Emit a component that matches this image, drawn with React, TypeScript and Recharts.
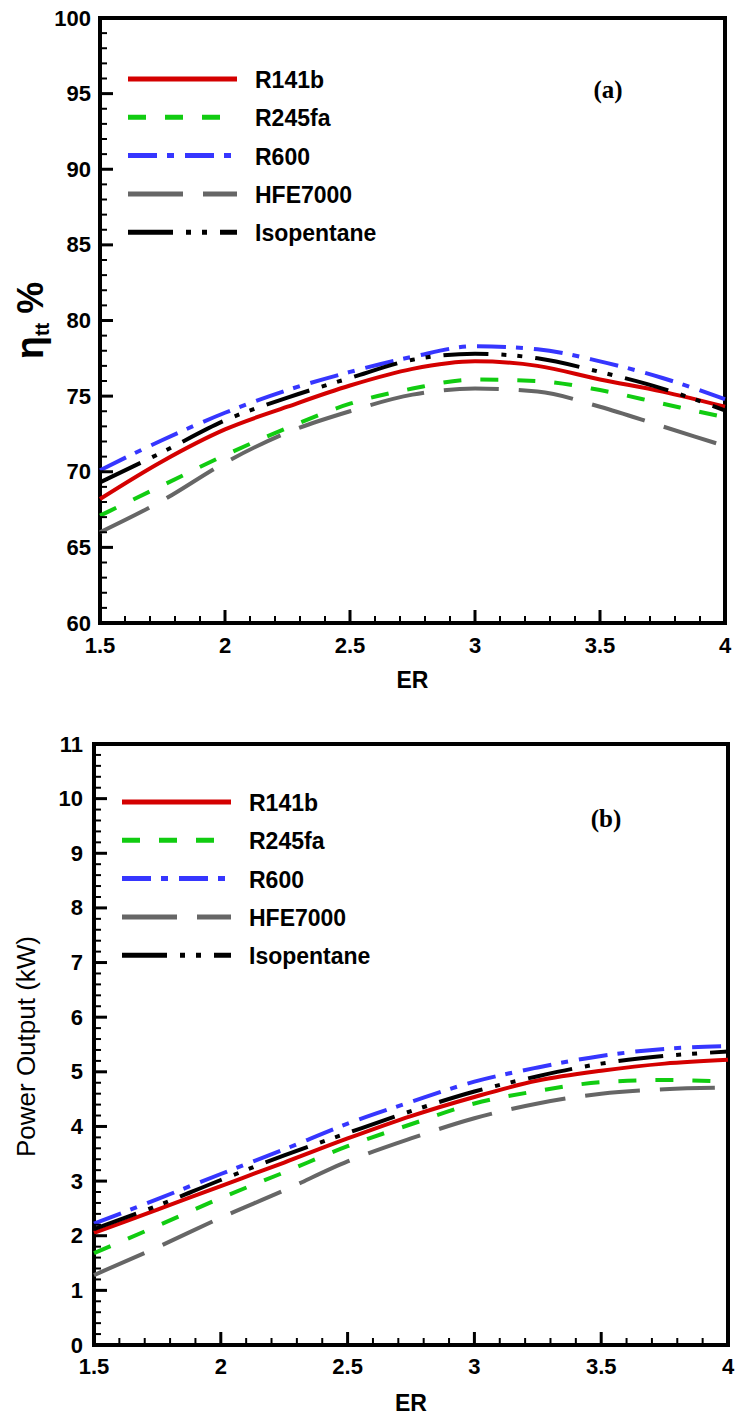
import { LineChart, Line, XAxis, YAxis, ReferenceArea, Legend } from 'recharts';

// expansion ratio sampled along the curves
const erValues = [1.5, 1.75, 2, 2.25, 2.5, 2.75, 3, 3.25, 3.5, 3.75, 4];

// (a) total-to-total efficiency, %
const etaR141b = [68.2, 70.7, 72.8, 74.3, 75.7, 76.8, 77.3, 77.0, 76.1, 75.3, 74.3];
const etaR245fa = [67.1, 69.1, 71.1, 72.9, 74.5, 75.5, 76.1, 76.0, 75.4, 74.5, 73.6];
const etaR600 = [70.1, 72.1, 73.9, 75.4, 76.6, 77.6, 78.3, 78.1, 77.3, 76.2, 74.8];
const etaHFE7000 = [66.0, 68.1, 70.6, 72.6, 74.0, 75.1, 75.5, 75.3, 74.3, 73.0, 71.7];
const etaIsopentane = [69.3, 71.3, 73.4, 74.9, 76.2, 77.4, 77.8, 77.5, 76.6, 75.5, 74.05];

// (b) power output, kW
const powR141b = [2.05, 2.48, 2.91, 3.34, 3.78, 4.19, 4.54, 4.84, 5.02, 5.15, 5.22];
const powR245fa = [1.68, 2.18, 2.69, 3.16, 3.64, 4.04, 4.42, 4.65, 4.81, 4.85, 4.82];
const powR600 = [2.22, 2.67, 3.13, 3.58, 4.05, 4.45, 4.82, 5.08, 5.29, 5.42, 5.47];
const powHFE7000 = [1.28, 1.79, 2.33, 2.83, 3.36, 3.78, 4.15, 4.42, 4.6, 4.68, 4.71];
const powIsopentane = [2.12, 2.55, 3.02, 3.47, 3.88, 4.28, 4.64, 4.92, 5.15, 5.29, 5.37];

// axis ticks (majors get a label, the rest are minor marks)
const erTicks = Array.from({ length: 26 }, (_, i) => (15 + i) / 10);
const etaTicks = Array.from({ length: 41 }, (_, i) => 60 + i);
const powTicks = Array.from({ length: 56 }, (_, i) => (i * 2) / 10);

const fluids = [
  { key: 'R141b', color: '#d40000', dash: undefined },
  { key: 'R245fa', color: '#11cc11', dash: '18 19' },
  { key: 'R600', color: '#3636ff', dash: '29 10 7 11' },
  { key: 'HFE7000', color: '#666666', dash: '55 20' },
  { key: 'Isopentane', color: '#000000', dash: '45 13 5 11 5 13' },
];

const etaData = erValues.map((er, i) => ({
  er,
  R141b: etaR141b[i],
  R245fa: etaR245fa[i],
  R600: etaR600[i],
  HFE7000: etaHFE7000[i],
  Isopentane: etaIsopentane[i],
}));

const powData = erValues.map((er, i) => ({
  er,
  R141b: powR141b[i],
  R245fa: powR245fa[i],
  R600: powR600[i],
  HFE7000: powHFE7000[i],
  Isopentane: powIsopentane[i],
}));

const SANS = '"Liberation Sans", Arial, Helvetica, sans-serif';
const tickFont = { fontFamily: SANS, fontWeight: 700, fontSize: 22, fill: '#000' };

const near = (a: number, b: number) => Math.abs(a - b) < 1e-6;

const XTick = (props: any) => {
  const { x, y, payload, labelDy } = props;
  const v = payload.value;
  const major = near(v * 2, Math.round(v * 2));
  return (
    <g>
      <line x1={x} y1={y} x2={x} y2={y - (major ? 13 : 7)} stroke="#000" strokeWidth={major ? 3 : 2} />
      {major && (
        <text x={x} y={y + labelDy} textAnchor="middle" dominantBaseline="central" style={tickFont}>
          {v}
        </text>
      )}
    </g>
  );
};

const YTick = (props: any) => {
  const { x, y, payload, gap, majorStep } = props;
  const v = payload.value;
  const major = near(v / majorStep, Math.round(v / majorStep));
  return (
    <g>
      <line x1={x} y1={y} x2={x + (major ? 13 : 7)} y2={y} stroke="#000" strokeWidth={major ? 3 : 2} />
      {major && (
        <text x={x - gap} y={y} textAnchor="end" dominantBaseline="central" style={tickFont}>
          {Math.round(v)}
        </text>
      )}
    </g>
  );
};

const LegendBox = () => (
  <svg width={300} height={200}>
    {fluids.map((f, i) => {
      const y = 12 + i * 38.3;
      return (
        <g key={f.key}>
          <line x1={0} x2={109} y1={y} y2={y} stroke={f.color} strokeWidth={5} strokeDasharray={f.dash} />
          <text x={127} y={y + 1} dominantBaseline="central" style={{ ...tickFont, fontSize: 23 }}>
            {f.key}
          </text>
        </g>
      );
    })}
  </svg>
);

type PanelProps = {
  data: any[];
  height: number;
  margin: { top: number; right: number; bottom: number; left: number };
  yWidth: number;
  yDomain: [number, number];
  yTicks: number[];
  majorStep: number;
  yGap: number;
  xLabelDy: number;
  erDy: number;
  legendX: number;
  legendY: number;
  yLabel: (cy: number) => any;
};

function Panel(p: PanelProps) {
  const plotH = p.height - p.margin.top - p.margin.bottom - 60;
  const plotL = p.margin.left + p.yWidth;
  const plotR = 736 - p.margin.right;
  return (
    <LineChart width={736} height={p.height} data={p.data} margin={p.margin}>
      <XAxis
        type="number"
        dataKey="er"
        domain={[1.5, 4]}
        ticks={erTicks}
        interval={0}
        height={60}
        tickSize={0}
        tickMargin={0}
        axisLine={false}
        tick={(t: any) => <XTick {...t} labelDy={p.xLabelDy} />}
        label={() => (
          <text
            x={(plotL + plotR) / 2}
            y={p.margin.top + plotH + p.erDy}
            textAnchor="middle"
            dominantBaseline="central"
            style={{ ...tickFont, fontSize: 23 }}
          >
            ER
          </text>
        )}
      />
      <YAxis
        type="number"
        domain={p.yDomain}
        ticks={p.yTicks}
        interval={0}
        width={p.yWidth}
        tickSize={0}
        tickMargin={0}
        axisLine={false}
        tick={(t: any) => <YTick {...t} gap={p.yGap} majorStep={p.majorStep} />}
        label={() => p.yLabel(p.margin.top + plotH / 2)}
      />
      {fluids.map((f) => (
        <Line
          key={f.key}
          type="monotone"
          dataKey={f.key}
          stroke={f.color}
          strokeWidth={4}
          strokeDasharray={f.dash}
          dot={false}
          activeDot={false}
          isAnimationActive={false}
        />
      ))}
      <ReferenceArea
        x1={1.5}
        x2={4}
        y1={p.yDomain[0]}
        y2={p.yDomain[1]}
        fill="none"
        stroke="#000"
        strokeWidth={4}
      />
      <Legend
        layout="vertical"
        align="center"
        verticalAlign="middle"
        content={() => <LegendBox />}
        wrapperStyle={{ left: p.legendX, top: p.legendY - 12, width: 300, height: 200, margin: 0 }}
      />
    </LineChart>
  );
}

const tagStyle: any = {
  position: 'absolute',
  fontFamily: '"Liberation Serif", "Times New Roman", serif',
  fontWeight: 700,
  fontSize: 25,
  transform: 'translate(-50%, -50%)',
  lineHeight: 1,
};

export default function App() {
  return (
    <div style={{ position: 'absolute', left: 0, top: 0, width: 736, height: 1418, background: '#fff' }}>
      <div style={{ position: 'absolute', left: 0, top: 0 }}>
        <Panel
          data={etaData}
          height={700}
          margin={{ top: 18, right: 11, bottom: 17, left: 0 }}
          yWidth={100}
          yDomain={[60, 100]}
          yTicks={etaTicks}
          majorStep={5}
          yGap={9}
          xLabelDy={22}
          erDy={57}
          legendX={128}
          legendY={79}
          yLabel={(cy) => (
            <text
              x={43}
              y={cy}
              transform={`rotate(-90, 43, ${cy})`}
              textAnchor="middle"
              style={{ fontFamily: SANS, fontWeight: 700, fill: '#000' }}
            >
              <tspan fontSize={38}>η</tspan>
              <tspan fontSize={20} dy={6}>tt</tspan>
              <tspan fontSize={36} dy={-6} dx={9}>%</tspan>
            </text>
          )}
        />
      </div>
      <div style={{ ...tagStyle, left: 608, top: 89 }}>(a)</div>
      <div style={{ position: 'absolute', left: 0, top: 700 }}>
        <Panel
          data={powData}
          height={718}
          margin={{ top: 44, right: 8, bottom: 13, left: 0 }}
          yWidth={94}
          yDomain={[0, 11]}
          yTicks={powTicks}
          majorStep={1}
          yGap={11}
          xLabelDy={21}
          erDy={58}
          legendX={122}
          legendY={102}
          yLabel={(cy) => (
            <text
              x={35}
              y={cy + 2}
              transform={`rotate(-90, 35, ${cy + 2})`}
              textAnchor="middle"
              style={{ fontFamily: SANS, fontWeight: 400, fontSize: 26, fill: '#000' }}
            >
              Power Output (kW)
            </text>
          )}
        />
      </div>
      <div style={{ ...tagStyle, left: 606, top: 818 }}>(b)</div>
    </div>
  );
}
